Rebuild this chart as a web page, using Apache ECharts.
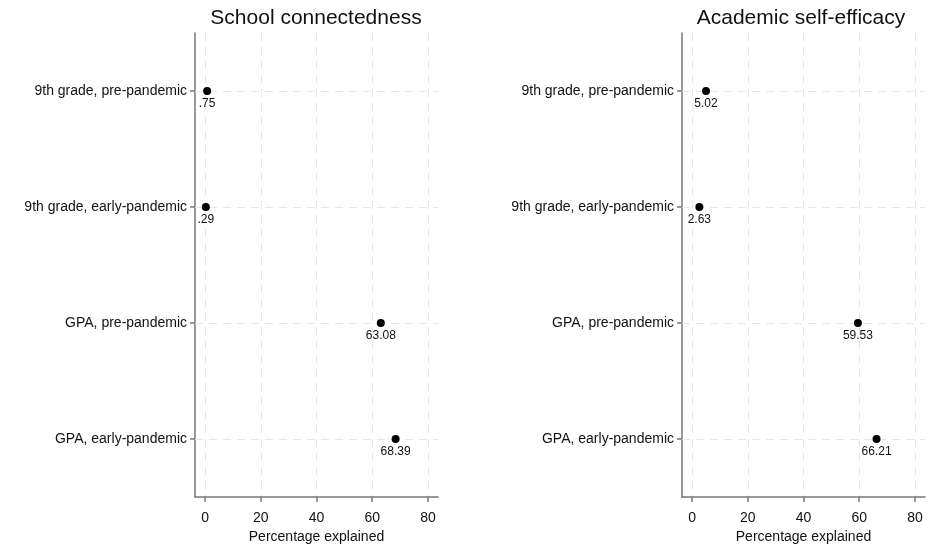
<!DOCTYPE html>
<html>
<head>
<meta charset="utf-8">
<script src="https://cdn.jsdelivr.net/npm/echarts@6/dist/echarts.min.js"></script>
<style>
  html, body { margin: 0; padding: 0; background: #fff; }
  #main { width: 928px; height: 547px; }
</style>
</head>
<body>
<div id="main"></div>
<script>
var categories = ['9th grade, pre-pandemic', '9th grade, early-pandemic', 'GPA, pre-pandemic', 'GPA, early-pandemic'];
var connectedness = [0.75, 0.29, 63.08, 68.39];
var selfEfficacy = [5.02, 2.63, 59.53, 66.21];
var xTicks = [0, 20, 40, 60, 80];
var titles = ['School connectedness', 'Academic self-efficacy'];

var chart = echarts.init(document.getElementById('main'));
var font = 'Liberation Sans, Arial, sans-serif';
var grids = [
    { left: 195, width: 243, top: 33, height: 464, outerBoundsMode: 'none' },
    { left: 682, width: 243, top: 33, height: 464, outerBoundsMode: 'none' }
];
var titleCenters = [316, 801];

// stata style label: drop leading zero
function fmt(v) {
    var s = v.toFixed(2);
    return s.indexOf('0.') === 0 ? s.slice(1) : s;
}

function xAxisFor(i) {
    return {
        type: 'value', gridIndex: i, min: -3.6, max: 83.6,
        name: 'Percentage explained', nameLocation: 'middle', nameGap: 33,
        nameTextStyle: { fontFamily: font, fontSize: 14, color: '#111' },
        axisLine: { show: true, onZero: false, lineStyle: { color: '#777', width: 1.5 } },
        axisTick: { show: true, length: 5, customValues: xTicks, lineStyle: { color: '#777', width: 1.5 } },
        axisLabel: { customValues: xTicks, fontFamily: font, fontSize: 14, color: '#111', margin: 14 },
        splitLine: { show: true, lineStyle: { color: '#e6e6e6', type: [8, 6] } }
    };
}

function yAxisFor(i) {
    return {
        type: 'category', gridIndex: i, data: categories, inverse: true,
        axisLine: { show: true, onZero: false, lineStyle: { color: '#777', width: 1.5 } },
        axisTick: { show: true, length: 5, alignWithLabel: true, lineStyle: { color: '#777', width: 1.5 } },
        axisLabel: { fontFamily: font, fontSize: 14, color: '#111', margin: 8 },
        splitLine: { show: false }
    };
}

function seriesFor(i, values) {
    return {
        type: 'scatter', xAxisIndex: i, yAxisIndex: i,
        data: values.map(function (v, k) { return [v, categories[k]]; }),
        symbolSize: 8,
        itemStyle: { color: '#000', opacity: 1 },
        label: {
            show: true, position: 'bottom', distance: 3,
            fontFamily: font, fontSize: 12, color: '#111',
            formatter: function (p) { return fmt(p.value[0]); }
        },
        markLine: {
            silent: true, symbol: 'none', label: { show: false },
            lineStyle: { color: '#e6e6e6', type: [8, 6], width: 1 },
            data: categories.map(function (c) { return { yAxis: c }; }),
            z: 1
        }
    };
}

var option = {
    animation: false,
    backgroundColor: '#fff',
    title: titles.map(function (t, i) {
        return {
            text: t, left: titleCenters[i], textAlign: 'center', top: 8, padding: 0,
            textStyle: { fontFamily: font, fontSize: 21, fontWeight: 'normal', color: '#111' }
        };
    }),
    grid: grids,
    xAxis: [xAxisFor(0), xAxisFor(1)],
    yAxis: [yAxisFor(0), yAxisFor(1)],
    series: [seriesFor(0, connectedness), seriesFor(1, selfEfficacy)]
};

chart.setOption(option);
</script>
</body>
</html>
